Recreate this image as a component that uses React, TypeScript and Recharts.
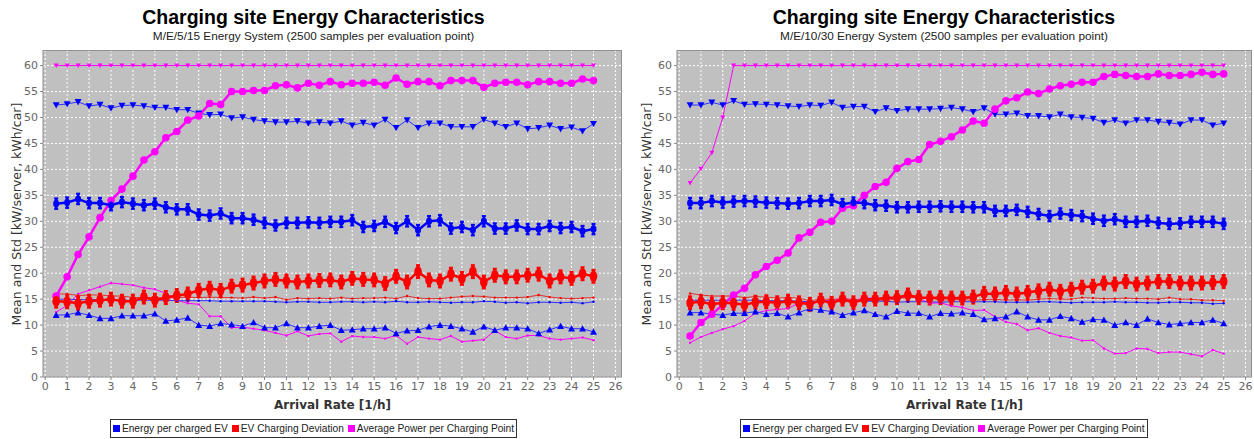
import { ComposedChart, Line, XAxis, YAxis, CartesianGrid, ErrorBar } from 'recharts'

const ARRIVAL = [0.5, 1, 1.5, 2, 2.5, 3, 3.5, 4, 4.5, 5, 5.5, 6, 6.5, 7, 7.5, 8, 8.5, 9, 9.5, 10,
  10.5, 11, 11.5, 12, 12.5, 13, 13.5, 14, 14.5, 15, 15.5, 16, 16.5, 17, 17.5, 18, 18.5, 19, 19.5, 20,
  20.5, 21, 21.5, 22, 22.5, 23, 23.5, 24, 24.5, 25]
const X_TICKS = [0, 1, 2, 3, 4, 5, 6, 7, 8, 9, 10, 11, 12, 13, 14, 15, 16, 17, 18, 19, 20, 21, 22, 23, 24, 25, 26]
const Y_TICKS = [0, 5, 10, 15, 20, 25, 30, 35, 40, 45, 50, 55, 60]

// M/E/5/15
const L_ENERGY_MEAN = [33.4, 33.6, 34.3, 33.5, 33.5, 33.1, 33.7, 33.4, 33.1, 33.4, 32.7, 32.3, 32.3, 31.3, 31.1, 31.5, 30.6, 30.6, 30.3, 29.7,
  29.2, 29.7, 29.7, 29.8, 29.7, 29.9, 29.9, 30.2, 28.9, 29.1, 29.9, 28.7, 30.0, 28.3, 30.0, 30.2, 28.6, 28.9, 28.3, 30.0,
  28.6, 28.6, 29.2, 28.5, 28.5, 29.1, 28.7, 28.9, 28.1, 28.5]
const L_ENERGY_MAX = [52.4, 52.6, 53.0, 52.2, 52.5, 51.8, 52.3, 52.4, 52.2, 51.9, 51.9, 51.5, 51.5, 50.8, 50.5, 50.6, 49.9, 50.1, 49.6, 49.3,
  49.1, 49.1, 49.3, 48.9, 49.1, 48.9, 49.3, 48.5, 49.0, 48.5, 49.6, 48.0, 49.5, 48.0, 48.9, 48.9, 48.2, 48.2, 48.2, 49.6,
  48.9, 48.2, 48.9, 47.8, 48.0, 48.5, 47.8, 48.1, 47.4, 48.8]
const L_ENERGY_MIN = [11.9, 12.0, 12.4, 11.9, 11.3, 11.3, 11.8, 11.8, 11.8, 12.2, 10.8, 11.0, 11.4, 10.0, 9.8, 10.3, 10.1, 9.8, 10.5, 9.5,
  9.5, 10.3, 9.5, 9.5, 9.8, 10.0, 9.0, 9.1, 9.3, 9.3, 9.5, 8.4, 8.9, 9.0, 9.7, 10.0, 9.8, 9.3, 8.7, 9.7,
  9.0, 9.5, 9.5, 9.3, 8.4, 9.1, 9.8, 9.3, 9.3, 8.7]
const L_ENERGY_STD = [15.0, 15.0, 14.9, 14.9, 14.9, 14.9, 14.8, 14.8, 14.8, 14.8, 14.8, 14.7, 14.7, 14.7, 14.7, 14.6, 14.6, 14.6, 14.6, 14.6,
  14.5, 14.4, 14.5, 14.5, 14.4, 14.4, 14.5, 14.5, 14.4, 14.5, 14.4, 14.6, 14.4, 14.4, 14.5, 14.4, 14.3, 14.4, 14.4, 14.6,
  14.5, 14.3, 14.4, 14.2, 14.4, 14.4, 14.3, 14.4, 14.2, 14.5]
const L_DEV_MEAN = [14.6, 14.5, 14.2, 14.6, 14.8, 15.0, 14.6, 14.6, 15.4, 14.8, 15.3, 15.7, 16.0, 16.7, 17.1, 16.7, 17.5, 17.7, 18.1, 18.5,
  18.8, 18.5, 18.3, 18.5, 18.6, 18.7, 18.3, 19.0, 18.8, 18.7, 18.0, 19.4, 18.3, 20.3, 18.7, 18.5, 19.8, 19.0, 20.3, 18.3,
  19.6, 19.3, 19.3, 19.6, 19.8, 18.5, 19.3, 19.0, 19.9, 19.4]
const L_DEV_STD = [16.0, 16.0, 15.7, 15.8, 15.8, 15.6, 15.6, 15.3, 15.3, 15.3, 15.2, 15.3, 15.4, 15.3, 15.4, 15.3, 15.3, 15.2, 15.4, 15.2,
  15.4, 14.9, 15.2, 15.1, 15.2, 15.1, 15.3, 15.1, 15.2, 15.2, 15.3, 15.1, 15.6, 15.2, 15.1, 15.1, 15.3, 15.5, 15.6, 15.5,
  15.3, 15.3, 15.3, 15.4, 15.8, 15.4, 15.2, 15.1, 15.2, 15.3]
const L_POWER_MEAN = [15.6, 19.3, 23.6, 27.0, 30.7, 34.0, 36.2, 38.7, 41.8, 43.4, 46.1, 47.3, 49.5, 50.3, 52.7, 52.5, 55.0, 55.0, 55.2, 55.2,
  56.1, 56.3, 55.7, 56.6, 56.2, 56.9, 56.3, 56.6, 56.6, 56.8, 56.2, 57.6, 56.4, 56.9, 56.9, 56.1, 57.1, 57.1, 57.1, 55.8,
  56.6, 56.8, 56.8, 56.3, 56.9, 56.9, 56.6, 56.6, 57.4, 57.1]
const L_POWER_MAX = [60, 60, 60, 60, 60, 60, 60, 60, 60, 60, 60, 60, 60, 60, 60, 60, 60, 60, 60, 60,
  60, 60, 60, 60, 60, 60, 60, 60, 60, 60, 60, 60, 60, 60, 60, 60, 60, 60, 60, 60,
  60, 60, 60, 60, 60, 60, 60, 60, 60, 60]
const L_POWER_STD = [12.5, 13.8, 16.0, 16.7, 17.4, 18.1, 17.9, 17.7, 17.2, 16.9, 16.1, 14.8, 14.2, 14.0, 11.7, 11.7, 9.5, 9.6, 9.3, 9.0,
  8.5, 8.0, 8.8, 7.9, 8.3, 8.4, 6.8, 7.9, 7.7, 7.7, 7.4, 8.0, 6.4, 7.7, 7.4, 7.2, 7.9, 6.8, 7.0, 7.2,
  8.9, 7.7, 7.4, 8.0, 8.0, 7.4, 7.2, 7.4, 7.6, 7.1]

// M/E/10/30
const R_ENERGY_MEAN = [33.5, 33.5, 33.9, 33.6, 33.8, 33.9, 33.8, 33.6, 33.5, 33.4, 33.5, 33.9, 33.9, 34.1, 33.3, 33.6, 33.5, 33.1, 33.0, 32.7,
  32.7, 32.8, 32.8, 32.9, 32.8, 32.8, 32.7, 32.7, 32.0, 32.0, 32.2, 31.8, 31.4, 31.0, 31.5, 31.2, 31.0, 30.5, 30.1, 30.4,
  29.9, 29.9, 30.1, 29.7, 29.5, 29.6, 29.9, 29.9, 29.9, 29.5]
const R_ENERGY_MAX = [52.4, 52.4, 52.9, 52.4, 53.2, 52.5, 52.6, 52.5, 52.4, 52.2, 52.1, 52.4, 52.3, 52.9, 51.9, 52.1, 52.1, 51.1, 51.8, 51.3,
  51.6, 51.6, 51.6, 51.7, 51.9, 51.6, 51.1, 51.8, 50.6, 50.6, 50.8, 50.3, 50.3, 50.1, 50.6, 50.1, 50.0, 49.8, 49.0, 49.5,
  48.9, 49.5, 49.5, 49.2, 49.0, 48.7, 49.5, 49.5, 48.5, 48.9]
const R_ENERGY_MIN = [12.4, 12.4, 12.1, 11.9, 12.3, 12.3, 12.6, 12.1, 12.3, 11.6, 12.4, 13.2, 12.9, 12.6, 11.9, 12.4, 12.8, 12.1, 11.6, 12.7,
  12.3, 12.3, 11.6, 12.3, 12.2, 12.4, 12.1, 11.1, 11.3, 11.6, 12.6, 11.6, 11.0, 11.0, 11.7, 11.3, 10.6, 11.1, 11.0, 10.0,
  10.5, 10.0, 11.2, 10.5, 10.1, 10.3, 10.5, 10.5, 11.0, 10.3]
const R_ENERGY_STD = [14.8, 14.8, 14.8, 14.8, 14.8, 14.8, 14.8, 14.7, 14.7, 14.7, 14.6, 14.5, 14.6, 14.6, 14.6, 14.6, 14.6, 14.6, 14.6, 14.4,
  14.5, 14.5, 14.5, 14.4, 14.5, 14.5, 14.5, 14.5, 14.5, 14.4, 14.4, 14.4, 14.5, 14.5, 14.4, 14.3, 14.4, 14.4, 14.4, 14.5,
  14.4, 14.4, 14.3, 14.3, 14.4, 14.4, 14.3, 14.3, 14.1, 14.2]
const R_DEV_MEAN = [14.3, 14.5, 14.0, 14.3, 14.2, 13.9, 14.4, 14.5, 14.3, 14.6, 14.3, 14.0, 14.8, 14.2, 15.0, 14.3, 15.0, 15.0, 15.2, 15.3,
  15.8, 15.3, 15.2, 15.3, 15.2, 15.2, 15.4, 16.1, 16.0, 16.3, 16.0, 16.3, 16.6, 16.9, 16.5, 16.9, 17.3, 17.5, 18.1, 17.9,
  18.4, 17.9, 18.1, 18.4, 18.4, 18.1, 18.1, 18.1, 18.2, 18.4]
const R_DEV_STD = [16.1, 15.8, 15.6, 15.6, 15.6, 15.3, 15.5, 15.4, 15.2, 15.3, 15.2, 14.7, 15.0, 15.0, 15.0, 15.0, 14.7, 14.8, 14.8, 15.0,
  15.4, 15.2, 15.2, 14.8, 14.9, 14.9, 14.8, 14.9, 15.0, 14.8, 14.9, 14.8, 15.0, 15.1, 15.0, 15.0, 15.3, 15.2, 15.1, 15.1,
  15.2, 15.1, 15.1, 15.0, 15.3, 15.0, 15.0, 14.8, 14.8, 14.7]
const R_POWER_MEAN = [7.9, 10.5, 12.1, 13.9, 15.8, 17.1, 19.7, 21.3, 22.5, 23.9, 26.8, 27.9, 29.8, 30.0, 32.5, 33.0, 35.0, 36.7, 37.5, 40.2,
  41.5, 41.9, 44.8, 45.4, 46.3, 47.6, 49.3, 48.9, 51.6, 53.2, 53.8, 54.9, 54.6, 55.5, 56.1, 56.4, 56.8, 56.8, 57.9, 58.3,
  58.1, 57.9, 57.9, 58.4, 58.1, 58.1, 58.3, 58.7, 58.3, 58.4]
const R_POWER_MAX = [37.4, 40.1, 43.2, 50.0, 60, 60, 60, 60, 60, 60, 60, 60, 60, 60, 60, 60, 60, 60, 60, 60,
  60, 60, 60, 60, 60, 60, 60, 60, 60, 60, 60, 60, 60, 60, 60, 60, 60, 60, 60, 60,
  60, 60, 60, 60, 60, 60, 60, 60, 60, 60]
const R_POWER_STD = [6.6, 7.7, 8.5, 9.2, 9.8, 10.8, 12.3, 12.8, 13.0, 13.2, 14.3, 14.3, 14.7, 14.7, 15.2, 14.8, 15.2, 15.2, 15.2, 15.4,
  15.4, 15.2, 14.2, 14.3, 13.7, 13.4, 12.8, 12.9, 11.6, 10.6, 10.2, 9.0, 9.4, 8.5, 7.9, 7.6, 7.0, 7.1, 5.5, 4.5,
  4.6, 5.5, 5.4, 4.6, 4.8, 4.8, 4.4, 4.0, 5.2, 4.5]

// half-width of the confidence markers
const ENERGY_CI = 1.0
const DEV_CI = 1.2

const LEGEND = [
  { name: 'Energy per charged EV', color: '#0000ff' },
  { name: 'EV Charging Deviation', color: '#ff0000' },
  { name: 'Average Power per Charging Point', color: '#ff00ff' },
]

const BLUE = '#0000ff'
const RED = '#ff0000'
const MAGENTA = '#ff00ff'

function buildRows(s: Record<string, number[]>) {
  return ARRIVAL.map((x, i) => {
    const row: Record<string, number> = { x, eCi: ENERGY_CI, dCi: DEV_CI }
    for (const k of Object.keys(s)) row[k] = s[k][i]
    return row
  })
}

const triDown = (color: string, r: number) => (p: any) => (
  <path key={`td-${p.index}`} d={`M${p.cx - r},${p.cy - r * 0.8}L${p.cx + r},${p.cy - r * 0.8}L${p.cx},${p.cy + r}Z`} fill={color} />
)
const triUp = (color: string, r: number) => (p: any) => (
  <path key={`tu-${p.index}`} d={`M${p.cx - r},${p.cy + r * 0.8}L${p.cx + r},${p.cy + r * 0.8}L${p.cx},${p.cy - r}Z`} fill={color} />
)
const ellipse = (color: string, rx: number, ry: number) => (p: any) => (
  <ellipse key={`el-${p.index}`} cx={p.cx} cy={p.cy} rx={rx} ry={ry} fill={color} />
)
const tiny = (color: string) => (p: any) => (
  <circle key={`tn-${p.index}`} cx={p.cx} cy={p.cy} r={1.2} fill={color} />
)

const tickStyle = { fill: '#666', fontSize: 11, fontFamily: 'DejaVu Sans' }

interface PanelProps {
  left: number
  width: number
  plotWidth: number
  title: string
  subtitle: string
  rows: Record<string, number>[]
  yLabelX: number
}

function Panel({ left, width, plotWidth, title, subtitle, rows, yLabelX }: PanelProps) {
  const plotLeft = 43
  const plotTop = 50
  const plotBottom = 377
  const xAxisH = 20
  const height = 439
  return (
    <div style={{ position: 'absolute', left, top: 0, width, height }}>
      <div style={{ position: 'absolute', top: 5, left: 0, width, textAlign: 'center', fontFamily: 'Liberation Sans', fontWeight: 'bold', fontSize: 19.5, lineHeight: '24px', color: '#000' }}>
        {title}
      </div>
      <div style={{ position: 'absolute', top: 28, left: 0, width, textAlign: 'center', fontFamily: 'Liberation Sans', fontSize: 11.8, lineHeight: '16px', color: '#222' }}>
        {subtitle}
      </div>
      <ComposedChart
        width={width}
        height={height}
        data={rows}
        margin={{ top: plotTop, right: width - plotLeft - plotWidth, left: 8, bottom: height - plotBottom - xAxisH }}
      >
        <CartesianGrid fill="#c0c0c0" stroke="#ffffff" strokeDasharray="2 2" strokeWidth={1} />
        <XAxis
          type="number"
          dataKey="x"
          domain={[-0.1, 26.3]}
          ticks={X_TICKS}
          interval={0}
          height={xAxisH}
          tick={tickStyle}
          tickSize={3}
          tickMargin={2}
          stroke="#888"
          allowDataOverflow
        />
        <YAxis
          type="number"
          domain={[0, 63]}
          ticks={Y_TICKS}
          interval={0}
          width={35}
          tick={tickStyle}
          tickSize={3}
          tickMargin={2}
          stroke="#888"
          allowDataOverflow
        />
        <Line dataKey="pMax" stroke={MAGENTA} strokeWidth={1} dot={triDown(MAGENTA, 2.5)} isAnimationActive={false} />
        <Line dataKey="eMax" stroke="#3030ff" strokeWidth={1} dot={triDown(BLUE, 3.5)} isAnimationActive={false} />
        <Line dataKey="pStd" stroke={MAGENTA} strokeWidth={1} dot={tiny(MAGENTA)} isAnimationActive={false} />
        <Line dataKey="dStd" stroke="#e03030" strokeWidth={1} dot={tiny(RED)} isAnimationActive={false} />
        <Line dataKey="eStd" stroke="#3030ff" strokeWidth={1} dot={tiny(BLUE)} isAnimationActive={false} />
        <Line dataKey="eMin" stroke="#3030ff" strokeWidth={1} dot={triUp(BLUE, 3.5)} isAnimationActive={false} />
        <Line dataKey="pMean" stroke={MAGENTA} strokeWidth={2.5} dot={ellipse(MAGENTA, 3.8, 3.8)} isAnimationActive={false} />
        <Line dataKey="dMean" stroke={RED} strokeWidth={2.5} dot={ellipse(RED, 3.8, 5.5)} isAnimationActive={false}>
          <ErrorBar dataKey="dCi" direction="y" width={2} strokeWidth={2.5} stroke={RED} isAnimationActive={false} />
        </Line>
        <Line dataKey="eMean" stroke={BLUE} strokeWidth={2.5} dot={ellipse(BLUE, 3, 3.8)} isAnimationActive={false}>
          <ErrorBar dataKey="eCi" direction="y" width={2} strokeWidth={2.2} stroke={BLUE} isAnimationActive={false} />
        </Line>
      </ComposedChart>
      <div style={{ position: 'absolute', left: plotLeft, top: plotTop, width: plotWidth, height: plotBottom - plotTop, boxSizing: 'border-box', borderTop: '1px solid #909090', borderRight: '1px solid #909090', pointerEvents: 'none' }} />
      <div style={{ position: 'absolute', left: yLabelX - 150, top: (plotTop + plotBottom) / 2 - 9, width: 300, textAlign: 'center', transform: 'rotate(-90deg)', fontFamily: 'DejaVu Sans', fontSize: 12.5, lineHeight: '18px', color: '#333' }}>
        Mean and Std [kW/server, kWh/car]
      </div>
      <div style={{ position: 'absolute', left: plotLeft, top: 396, width: plotWidth, textAlign: 'center', fontFamily: 'DejaVu Sans', fontWeight: 'bold', fontSize: 12, lineHeight: '18px', color: '#333' }}>
        Arrival Rate [1/h]
      </div>
      <div style={{ position: 'absolute', top: 419, left: 0, width, display: 'flex', justifyContent: 'center' }}>
        <div style={{ border: '1px solid #333', padding: '0 2px', display: 'flex', alignItems: 'center', height: 17, fontFamily: 'Liberation Sans', fontSize: 10.2, color: '#222', whiteSpace: 'nowrap' }}>
          {LEGEND.map((l, i) => (
            <span key={l.name} style={{ display: 'inline-flex', alignItems: 'center', marginRight: i < LEGEND.length - 1 ? 4 : 0 }}>
              <span style={{ display: 'inline-block', width: 7, height: 7, background: l.color, marginRight: 2 }} />
              {l.name}
            </span>
          ))}
        </div>
      </div>
    </div>
  )
}

const leftRows = buildRows({
  eMean: L_ENERGY_MEAN, eMax: L_ENERGY_MAX, eMin: L_ENERGY_MIN, eStd: L_ENERGY_STD,
  dMean: L_DEV_MEAN, dStd: L_DEV_STD, pMean: L_POWER_MEAN, pMax: L_POWER_MAX, pStd: L_POWER_STD,
})
const rightRows = buildRows({
  eMean: R_ENERGY_MEAN, eMax: R_ENERGY_MAX, eMin: R_ENERGY_MIN, eStd: R_ENERGY_STD,
  dMean: R_DEV_MEAN, dStd: R_DEV_STD, pMean: R_POWER_MEAN, pMax: R_POWER_MAX, pStd: R_POWER_STD,
})

export default function App() {
  return (
    <div style={{ position: 'absolute', left: 0, top: 0, width: 1254, height: 439, background: '#fff', overflow: 'hidden' }}>
      <Panel left={0} width={627} plotWidth={579} title="Charging site Energy Characteristics"
        subtitle="M/E/5/15 Energy System (2500 samples per evaluation point)" rows={leftRows} yLabelX={17} />
      <Panel left={634} width={620} plotWidth={575} title="Charging site Energy Characteristics"
        subtitle="M/E/10/30 Energy System (2500 samples per evaluation point)" rows={rightRows} yLabelX={13} />
    </div>
  )
}
